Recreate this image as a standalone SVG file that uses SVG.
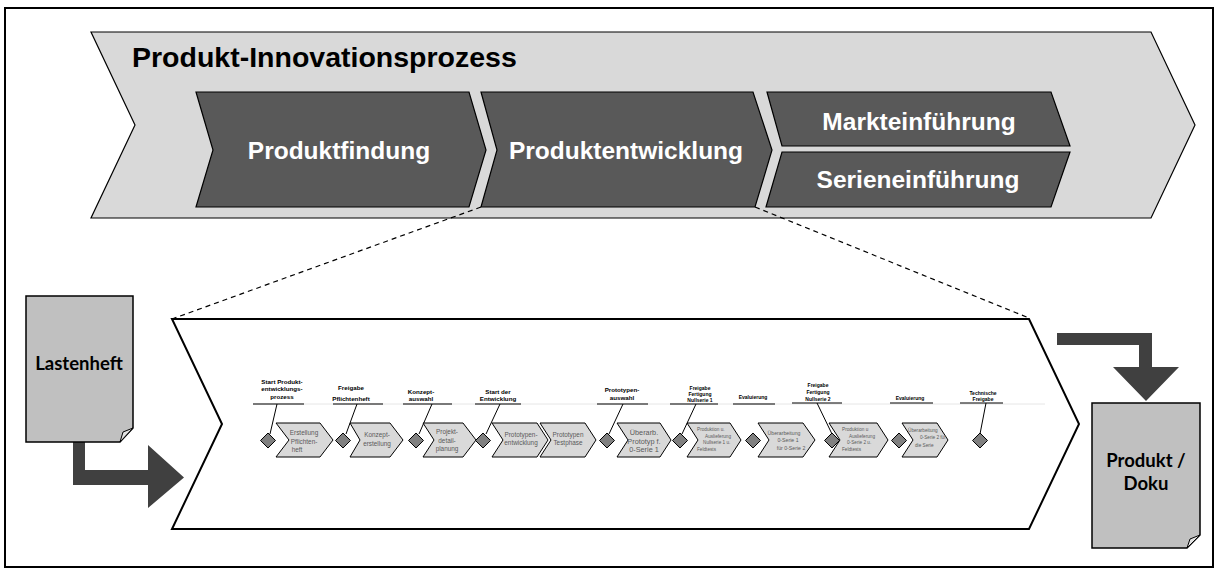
<svg xmlns="http://www.w3.org/2000/svg" width="1219" height="572" viewBox="0 0 1219 572">
  <style>
    .frame { fill: #ffffff; stroke: #000000; stroke-width: 2; }
    .band { fill: #d9d9d9; stroke: #000000; stroke-width: 1.2; }
    .phase { fill: #595959; stroke: #000000; stroke-width: 1.2; }
    .phase-text { font-family: "Liberation Sans", Arial, sans-serif; font-weight: bold; font-size: 24.5px; fill: #ffffff; text-anchor: middle; }
    .title { font-family: "Liberation Sans", Arial, sans-serif; font-weight: bold; font-size: 28.5px; fill: #000000; }
    .zoom { fill: #ffffff; stroke: #000000; stroke-width: 2; }
    .guide { fill: none; stroke: #000000; stroke-width: 1.2; stroke-dasharray: 5 4; }
    .doc { fill: #c0c0c0; stroke: #000000; stroke-width: 1.5; }
    .fold { fill: #e3e3e3; stroke: #000000; stroke-width: 1; }
    .doc-text { font-family: Lato, "Open Sans", sans-serif; font-weight: bold; font-size: 18.5px; fill: #000000; text-anchor: middle; }
    .flow { fill: #404040; stroke: none; }
    .step { fill: #d9d9d9; stroke: #000000; stroke-width: 1; }
    .gate { fill: #808080; stroke: #000000; stroke-width: 1; }
    .rule { stroke: #000000; stroke-width: 1.2; fill: none; }
    .lead { stroke: #000000; stroke-width: 1; fill: none; }
    .track { stroke: #e6e6e6; stroke-width: 1; fill: none; }
    .gate-label { font-family: "Liberation Sans", Arial, sans-serif; font-weight: bold; font-size: 6.2px; fill: #000000; text-anchor: middle; }
    .gate-label.small { font-size: 5px; }
    .step-text { font-family: "Liberation Sans", Arial, sans-serif; font-size: 6.4px; fill: #595959; text-anchor: middle; }
    .step-text.big { font-size: 7.3px; }
    .step-text.tiny { font-size: 4.7px; text-anchor: start; }
  </style>

  <!-- outer frame -->
  <rect class="frame" x="5" y="8" width="1208" height="559"/>

  <!-- overall process band -->
  <g id="produkt-innovationsprozess">
    <path class="band" d="M91,32 H1151 L1195,125 L1151,218 H91 L135,125 Z"/>
    <text class="title" x="132" y="67">Produkt-Innovationsprozess</text>
  </g>

  <g id="produktfindung">
    <path class="phase" d="M196,92 H469 L486,150 L469,207 H196 L213,150 Z"/>
    <text class="phase-text" x="339" y="159">Produktfindung</text>
  </g>

  <g id="produktentwicklung">
    <path class="phase" d="M481,92 H753 L772,150 L755,207 H481 L497,150 Z"/>
    <text class="phase-text" x="626" y="159">Produktentwicklung</text>
  </g>

  <g id="markteinfuehrung">
    <path class="phase" d="M767,92 H1051 L1070,146 H782 Z"/>
    <text class="phase-text" x="919" y="130">Markteinführung</text>
  </g>

  <g id="serieneinfuehrung">
    <path class="phase" d="M782,152 H1070 L1051,207 H766 Z"/>
    <text class="phase-text" x="918" y="188">Serieneinführung</text>
  </g>

  <!-- detail view of the development phase -->
  <g id="connectors">
    <path class="guide" d="M481,207 L172,319"/>
    <path class="guide" d="M755,207 L1029,318"/>
    <path class="flow" d="M73,442 H85 V470 H148 V445 L184,477.5 L148,508 V485 H73 Z"/>
    <path class="flow" d="M1057,333 H1152 V367 H1179 L1146,401 L1113,367 H1139 V345 H1057 Z"/>
  </g>

  <g id="entwicklungsprozess">
    <path class="zoom" d="M172,319 H1029 L1079,424 L1029,529 H172 L222,424 Z"/>
  </g>

  <g id="lastenheft">
    <path class="doc" d="M26,296 H133 V428 L120,442 H26 Z"/>
    <path class="fold" d="M133,428 L123,432 L120,442 Z"/>
    <text class="doc-text" x="79" y="369.5">Lastenheft</text>
  </g>

  <g id="produkt-doku">
    <path class="doc" d="M1092,403 H1200 V535 L1187,548 H1092 Z"/>
    <path class="fold" d="M1200,535 L1190,539 L1187,548 Z"/>
    <text class="doc-text" x="1146" y="466.5">Produkt /</text>
    <text class="doc-text" x="1146" y="489.5">Doku</text>
  </g>

  <!-- milestone track -->
  <line class="track" x1="253" y1="404" x2="1045" y2="404"/>

  <g id="m1">
    <text class="gate-label" x="282" y="383.5">Start Produkt-</text>
    <text class="gate-label" x="282" y="391">entwicklungs-</text>
    <text class="gate-label" x="282" y="398.5">prozess</text>
    <line class="rule" x1="253" y1="404" x2="304" y2="404"/>
    <line class="lead" x1="277" y1="404" x2="270" y2="434"/>
  </g>
  <g id="s1">
    <path class="step" d="M276,423 H320 L333,440 L320,457 H276 L289,440 Z"/>
    <text class="step-text" x="304" y="435">Erstellung</text>
    <text class="step-text" x="304" y="444">Pflichten-</text>
    <text class="step-text" x="297" y="452">heft</text>
  </g>
  <path id="d1" class="gate" d="M268,433 L275.5,440.5 L268,448 L260.5,440.5 Z"/>

  <g id="m2">
    <text class="gate-label" x="351" y="390">Freigabe</text>
    <text class="gate-label" x="351" y="401">Pflichtenheft</text>
    <line class="rule" x1="333" y1="404" x2="383" y2="404"/>
    <line class="lead" x1="357" y1="404" x2="346" y2="434"/>
  </g>
  <g id="s2">
    <path class="step" d="M350,423 H390 L403,440 L390,457 H350 L360,440 Z"/>
    <text class="step-text" x="377" y="437">Konzept-</text>
    <text class="step-text" x="377" y="446">erstellung</text>
  </g>
  <path id="d2" class="gate" d="M343,433 L350.5,440.5 L343,448 L335.5,440.5 Z"/>

  <g id="m3">
    <text class="gate-label" x="421" y="394">Konzept-</text>
    <text class="gate-label" x="421" y="401">auswahl</text>
    <line class="rule" x1="403" y1="404" x2="452" y2="404"/>
    <line class="lead" x1="432" y1="404" x2="419" y2="434"/>
  </g>
  <g id="s3">
    <path class="step" d="M423,423 H463 L476,440 L463,457 H423 L434,440 Z"/>
    <text class="step-text" x="447" y="434">Projekt-</text>
    <text class="step-text" x="447" y="442.5">detail-</text>
    <text class="step-text" x="447" y="451">planung</text>
  </g>
  <path id="d3" class="gate" d="M416,433 L423.5,440.5 L416,448 L408.5,440.5 Z"/>

  <g id="m4">
    <text class="gate-label" x="498" y="394">Start der</text>
    <text class="gate-label" x="498" y="400.5">Entwicklung</text>
    <line class="rule" x1="475" y1="404" x2="521" y2="404"/>
    <line class="lead" x1="500" y1="404" x2="486" y2="434"/>
  </g>
  <g id="s4">
    <path class="step" d="M492,423 H537 L548,440 L537,457 H492 L503,440 Z"/>
    <text class="step-text" x="521" y="437">Prototypen-</text>
    <text class="step-text" x="521" y="445">entwicklung</text>
  </g>
  <path id="d4" class="gate" d="M483,433 L490.5,440.5 L483,448 L475.5,440.5 Z"/>

  <g id="s5">
    <path class="step" d="M540,423 H585 L596,440 L585,457 H540 L551,440 Z"/>
    <text class="step-text" x="568" y="437">Prototypen</text>
    <text class="step-text" x="568" y="445">Testphase</text>
  </g>

  <g id="m6">
    <text class="gate-label" x="622" y="392">Prototypen-</text>
    <text class="gate-label" x="622" y="400">auswahl</text>
    <line class="rule" x1="597" y1="404" x2="648" y2="404"/>
    <line class="lead" x1="623" y1="404" x2="609" y2="434"/>
  </g>
  <g id="s6">
    <path class="step" d="M617,423 H660 L671,440 L660,457 H617 L628,440 Z"/>
    <text class="step-text big" x="644" y="435">Überarb.</text>
    <text class="step-text big" x="644" y="443.5">Prototyp f.</text>
    <text class="step-text big" x="644" y="452">0-Serie 1</text>
  </g>
  <path id="d6" class="gate" d="M607,433 L614.5,440.5 L607,448 L599.5,440.5 Z"/>

  <g id="m7">
    <text class="gate-label small" x="700" y="390">Freigabe</text>
    <text class="gate-label small" x="700" y="396">Fertigung</text>
    <text class="gate-label small" x="700" y="402">Nullserie 1</text>
    <line class="rule" x1="670" y1="404" x2="718" y2="404"/>
    <line class="lead" x1="696" y1="404" x2="682" y2="434"/>
  </g>
  <g id="s7">
    <path class="step" d="M687,423 H730 L741,440 L730,457 H687 L698,440 Z"/>
    <text class="step-text tiny" x="697" y="431">Produktion u.</text>
    <text class="step-text tiny" x="705" y="437.5">Auslieferung</text>
    <text class="step-text tiny" x="703" y="444">Nullserie 1 u.</text>
    <text class="step-text tiny" x="697" y="450.5">Feldtests</text>
  </g>
  <path id="d7" class="gate" d="M680,433 L687.5,440.5 L680,448 L672.5,440.5 Z"/>

  <g id="m8">
    <text class="gate-label small" x="753" y="399">Evaluierung</text>
    <line class="rule" x1="733" y1="404" x2="775" y2="404"/>
  </g>
  <g id="s8">
    <path class="step" d="M758,423 H803 L815,440 L803,457 H758 L769,440 Z"/>
    <text class="step-text" x="784" y="435" style="font-size:5.2px">Überarbeitung</text>
    <text class="step-text" x="788" y="442" style="font-size:5.2px">0-Serie 1</text>
    <text class="step-text" x="791" y="449.5" style="font-size:5.2px">für 0-Serie 2</text>
  </g>
  <path id="d8" class="gate" d="M753,433 L760.5,440.5 L753,448 L745.5,440.5 Z"/>

  <g id="m9">
    <text class="gate-label small" x="818" y="387">Freigabe</text>
    <text class="gate-label small" x="818" y="394">Fertigung</text>
    <text class="gate-label small" x="818" y="401">Nullserie 2</text>
    <line class="rule" x1="792" y1="403" x2="842" y2="403"/>
    <line class="lead" x1="817" y1="403" x2="832" y2="434"/>
  </g>
  <g id="s9">
    <path class="step" d="M829,423 H877 L888,440 L877,457 H829 L840,440 Z"/>
    <text class="step-text tiny" x="842" y="431">Produktion u</text>
    <text class="step-text tiny" x="849" y="438">Auslieferung</text>
    <text class="step-text tiny" x="847" y="444">0-Serie 2 u.</text>
    <text class="step-text tiny" x="842" y="450.5">Feldtests</text>
  </g>
  <path id="d9" class="gate" d="M832,433 L839.5,440.5 L832,448 L824.5,440.5 Z"/>

  <g id="m10">
    <text class="gate-label small" x="910" y="400">Evaluierung</text>
    <line class="rule" x1="890" y1="403" x2="933" y2="403"/>
  </g>
  <g id="s10">
    <path class="step" d="M902,423 H937 L948,440 L937,457 H902 L913,440 Z"/>
    <text class="step-text tiny" x="908" y="432">Überarbeitung</text>
    <text class="step-text tiny" x="920" y="439">0-Serie 2 für</text>
    <text class="step-text tiny" x="915" y="447">die Serie</text>
  </g>
  <path id="d10" class="gate" d="M899,433 L906.5,440.5 L899,448 L891.5,440.5 Z"/>

  <g id="m11">
    <text class="gate-label small" x="983" y="395">Technische</text>
    <text class="gate-label small" x="983" y="401">Freigabe</text>
    <line class="rule" x1="960" y1="403" x2="1003" y2="403"/>
    <line class="lead" x1="986" y1="403" x2="980" y2="434"/>
  </g>
  <path id="d11" class="gate" d="M980,433 L987.5,440.5 L980,448 L972.5,440.5 Z"/>
</svg>
